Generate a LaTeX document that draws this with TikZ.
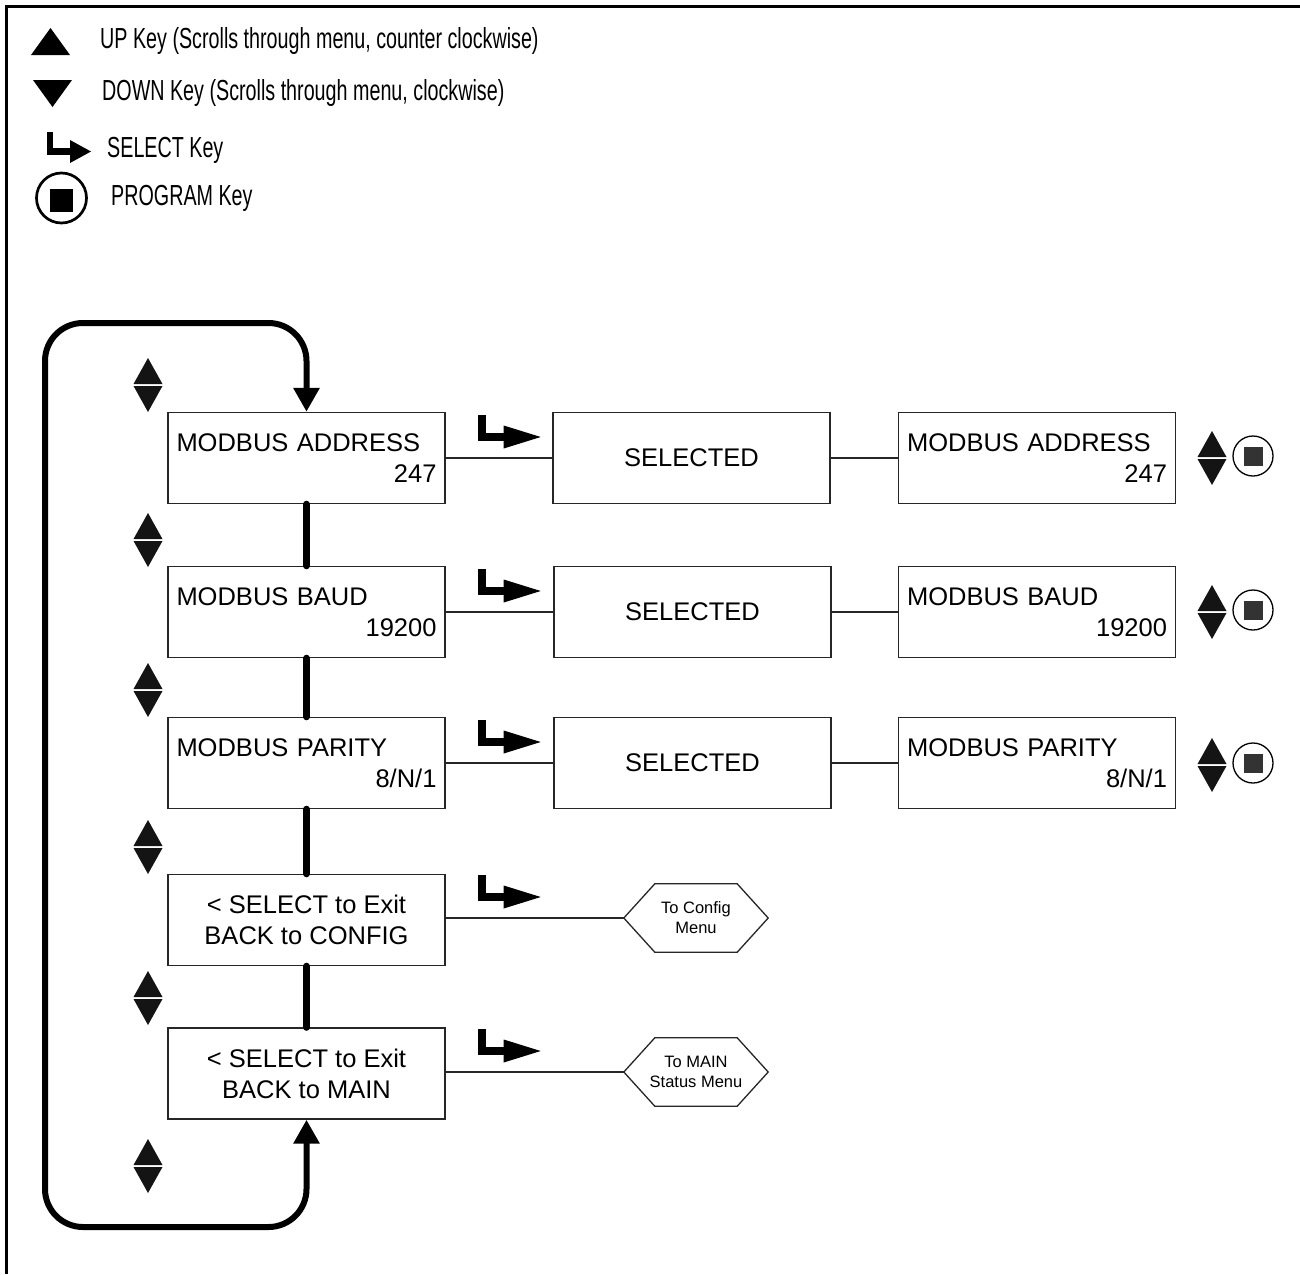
\documentclass[tikz,border=0pt]{standalone}
\usepackage{fontspec}
\setmainfont{Liberation Sans}
\newfontfamily\legendfont[FakeStretch=0.68]{Liberation Sans}
\usetikzlibrary{arrows.meta,calc}
\tikzset{
  menubox/.style={draw=black!85, line width=1.4pt, minimum width=277pt, minimum height=91pt,
    inner sep=0pt, font=\fontsize{25.5}{31}\selectfont},
  twoline/.style={text width=260pt, align=left},
  centred/.style={align=center},
  hexnode/.style={minimum width=144pt, minimum height=68pt, inner sep=0pt, align=center,
    font=\fontsize{16.5}{20}\selectfont},
  hexline/.style={draw=black!85, line width=1.3pt},
  thinconn/.style={draw=black!85, line width=1.4pt},
  vconn/.style={line width=7pt, line cap=round},
  loopline/.style={line width=6pt, rounded corners=38pt,
    {Triangle[length=24pt,width=25pt]}-{Triangle[length=24pt,width=25pt]}},
  legendtext/.style={anchor=base west, inner sep=0pt, font=\legendfont\fontsize{29}{34}\selectfont},
  updown/.pic={
    \fill[black!92] (0,-27) -- (14.5,-1) -- (-14.5,-1) -- cycle;
    \fill[black!92] (0,27) -- (14.5,1) -- (-14.5,1) -- cycle;
  },
  selkey/.pic={
    \draw[line width=8pt, line join=miter] (0,-22) -- (0,0) -- (26,0);
    \fill (22,-11.5) -- (59,0) -- (22,11.5) -- cycle;
  },
  progkey/.pic={
    \draw[line width=1.3pt] (0,0) circle[radius=20];
    \fill[black!80] (-9.5,-9.5) rectangle (9.5,9.5);
  }
}
\begin{document}
\begin{tikzpicture}[x=1pt,y=-1pt]
\useasboundingbox (0,0) rectangle (1300,1274);
% frame
\draw[line width=3pt] (1300,6) -- (6,6) -- (6,1274);

% legend
\fill (31,55) -- (70,55) -- (50.5,28) -- cycle;
\fill (33,80) -- (72,80) -- (52.5,107) -- cycle;
\draw[line width=6.5pt, line join=miter] (50,132) -- (50,151.5) -- (72,151.5);
\fill (70,140) -- (91,151.5) -- (70,163) -- cycle;
\draw[line width=2.7pt] (61.5,198) circle[radius=25];
\fill (50,188.5) rectangle (73,211.5);
\node[legendtext] (tup) at (100,48) {UP Key (Scrolls through menu, counter clockwise)};
\node[legendtext] (tdown) at (102,100) {DOWN Key (Scrolls through menu, clockwise)};
\node[legendtext] (tsel) at (107,157) {SELECT Key};
\node[legendtext] (tprog) at (111,205) {PROGRAM Key};

% left column
\node[menubox, twoline] (b1) at (306.5,458) {MODBUS ADDRESS\\\mbox{}\hfill 247};
\node[menubox, twoline] (b2) at (306.5,612) {MODBUS BAUD\\\mbox{}\hfill 19200};
\node[menubox, twoline] (b3) at (306.5,763) {MODBUS PARITY\\\mbox{}\hfill 8/N/1};
\node[menubox, centred] (b4) at (306.5,920) {< SELECT to Exit\\BACK to CONFIG};
\node[menubox, centred] (b5) at (306.5,1073.5) {< SELECT to Exit\\BACK to MAIN};

% selected column
\node[menubox, centred] (s1) at (691.5,458) {SELECTED};
\node[menubox, centred] (s2) at (692.5,612) {SELECTED};
\node[menubox, centred] (s3) at (692.5,763) {SELECTED};

% right column
\node[menubox, twoline] (r1) at (1037,458) {MODBUS ADDRESS\\\mbox{}\hfill 247};
\node[menubox, twoline] (r2) at (1037,612) {MODBUS BAUD\\\mbox{}\hfill 19200};
\node[menubox, twoline] (r3) at (1037,763) {MODBUS PARITY\\\mbox{}\hfill 8/N/1};

% hexagons
\node[hexnode] (h1) at (696,918) {To Config\\Menu};
\node[hexnode] (h2) at (696,1072) {To MAIN\\Status Menu};
\foreach \h in {h1,h2}{
  \draw[hexline] (\h.west) -- ($(\h.north west)+(31,0)$) -- ($(\h.north east)+(-31,0)$)
    -- (\h.east) -- ($(\h.south east)+(-31,0)$) -- ($(\h.south west)+(31,0)$) -- cycle;
}

% horizontal connectors
\draw[thinconn] (b1.east) -- (s1.west);
\draw[thinconn] (s1.east) -- (r1.west);
\draw[thinconn] (b2.east) -- (s2.west);
\draw[thinconn] (s2.east) -- (r2.west);
\draw[thinconn] (b3.east) -- (s3.west);
\draw[thinconn] (s3.east) -- (r3.west);
\draw[thinconn] (b4.east |- h1.west) -- (h1.west);
\draw[thinconn] (b5.east |- h2.west) -- (h2.west);

% select key glyphs
\pic at ($(b1.east)+(36,-21)$) {selkey};
\pic at ($(b2.east)+(36,-21)$) {selkey};
\pic at ($(b3.east)+(36,-21)$) {selkey};
\pic at ($(b4.east |- h1.west)+(36,-21)$) {selkey};
\pic at ($(b5.east |- h2.west)+(36,-21)$) {selkey};

% vertical connectors
\draw[vconn] (b1.south) -- (b2.north);
\draw[vconn] (b2.south) -- (b3.north);
\draw[vconn] (b3.south) -- (b4.north);
\draw[vconn] (b4.south) -- (b5.north);

% loop
\draw[loopline] (b1.north) -- (306.5,323) -- (45,323) -- (45,1227) -- (306.5,1227) -- (b5.south);

% up/down symbols left
\foreach \yy in {385,540,690,847,998,1166}{ \pic at (148,\yy) {updown}; }

% right-hand key symbols
\foreach \yy in {458,612,765}{
  \pic at (1212,\yy) {updown};
  \pic at (1253,\yy-2) {progkey};
}
\end{tikzpicture}
\end{document}
